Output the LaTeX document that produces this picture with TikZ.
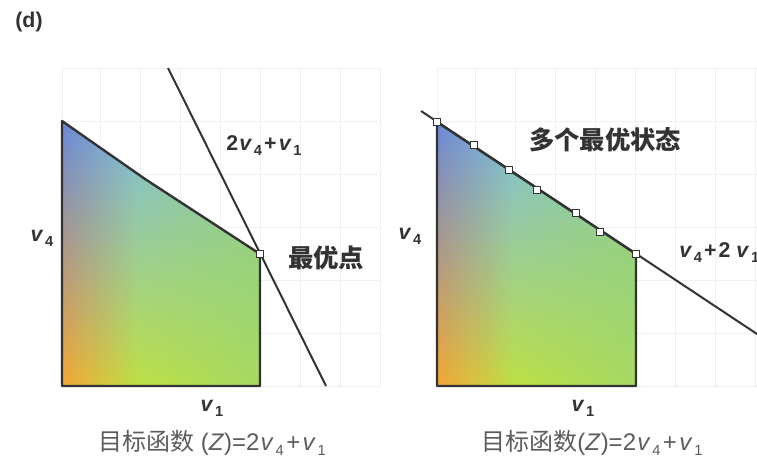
\documentclass[tikz,border=0pt]{standalone}
\usepackage{fontspec}
\setmainfont{Liberation Sans}
\newfontfamily\cjk{Noto Sans CJK SC}
\definecolor{ink}{HTML}{333333}
\definecolor{gridc}{HTML}{F0F0F0}
\definecolor{C00}{HTML}{6A88D8}
\definecolor{C10}{HTML}{7EBCE0}
\definecolor{C20}{HTML}{8ACC96}
\definecolor{C01}{HTML}{9CAED0}
\definecolor{C11}{HTML}{8ECC98}
\definecolor{C21}{HTML}{98D072}
\definecolor{C02}{HTML}{F4A634}
\definecolor{C12}{HTML}{BCE044}
\definecolor{C22}{HTML}{A6D862}
\tikzset{
  gridline/.style={draw=gridc, line width=0.6pt},
  outline/.style={draw=ink, line width=1.8pt, line join=round},
  objline/.style={draw=ink, line width=1.5pt},
  mk/.style={draw=ink, fill=white, line width=0.9pt, minimum size=5.5pt, inner sep=0pt, rectangle},
  lbl/.style={text=ink, font=\fontsize{16}{18}\selectfont\bfseries, inner sep=0pt},
  clbl/.style={text=ink, font=\fontsize{19}{21}\selectfont\cjk\bfseries, inner sep=0pt},
  axl/.style={text=ink, font=\fontsize{16}{18}\selectfont\bfseries, inner sep=0pt},
  captxt/.style={text=ink!80, font=\fontsize{18}{20}\selectfont, inner sep=0pt},
}
\newcommand{\vv}[1]{\textit{v}\kern0.08em\raisebox{-0.45ex}{\fontsize{11}{12}\selectfont #1}}
\newcommand{\pl}{\kern0.1em+\kern0.1em}
% strip-shaded fill of a panel: #1 = left x, #2 = width
\newcommand{\panelfill}[2]{%
  \foreach \k in {0,...,59} {
    \pgfmathsetmacro{\u}{(\k+0.5)/60}
    \pgfmathsetmacro{\xa}{#1+\k*#2/60}
    \pgfmathsetmacro{\xb}{#1+(\k+1)*#2/60+0.7}
    \ifdim\u pt<0.39pt
      \pgfmathsetmacro{\p}{\u/0.39*100}
      \colorlet{ct}{C10!\p!C00}\colorlet{cm}{C11!\p!C01}\colorlet{cb}{C12!\p!C02}
    \else
      \pgfmathsetmacro{\p}{(\u-0.39)/0.61*100}
      \colorlet{ct}{C20!\p!C10}\colorlet{cm}{C21!\p!C11}\colorlet{cb}{C22!\p!C12}
    \fi
    \fill[top color=ct, middle color=cm, bottom color=cb] (\xa,121) rectangle (\xb,386);
  }%
}
\begin{document}
\begin{tikzpicture}[x=0.75pt, y=-0.75pt]
\clip (0,0) rectangle (757,460);
\fill[white] (0,0) rectangle (757,460);
\node[text=ink, font=\fontsize{16}{18}\selectfont\bfseries, inner sep=0pt] (d) at (29,22) {(d)};
% ---------- left panel grid ----------
\foreach \x in {62,100,140,180,220,260,300,340,380}
  \draw[gridline] (\x,68) -- (\x,386);
\foreach \y in {68,121,174,227,280,333,386}
  \draw[gridline] (62,\y) -- (380,\y);
\coordinate (L1) at (62,121);
\coordinate (L2) at (145,179);
\coordinate (L3) at (260,254);
\coordinate (L4) at (260,386);
\coordinate (L5) at (62,386);
\begin{scope}
  \clip (L1) -- (L2) -- (L3) -- (L4) -- (L5) -- cycle;
  \panelfill{62}{198}
\end{scope}
\draw[outline] (L1) -- (L2) -- (L3) -- (L4) -- (L5) -- cycle;
\coordinate (A1) at (168,68);
\coordinate (A2) at (326,386);
\draw[objline] (A1) -- (A2);
\node[mk] (opt) at (L3) {};
\node[lbl] (t1) at (264,146) {2\kern0.05em\vv{4}\pl\vv{1}};
\node[clbl] (t2) at (326,258) {最优点};
\node[axl] (ya) at (42,238) {\vv{4}};
\node[axl] (xa) at (212,408) {\vv{1}};
\node[captxt] (c1) at (212,443) {{\cjk 目标函数} (\textit{Z})=2\kern0.05em\vv{4}\pl\vv{1}};
% ---------- right panel grid ----------
\foreach \x in {437,475,515,555,595,635,675,715,755}
  \draw[gridline] (\x,68) -- (\x,386);
\foreach \y in {68,121,174,227,280,333,386}
  \draw[gridline] (437,\y) -- (757,\y);
\coordinate (R1) at (437,122);
\coordinate (R2) at (474,145);
\coordinate (R3) at (509,170);
\coordinate (R4) at (537,190);
\coordinate (R5) at (576,213);
\coordinate (R6) at (600,232);
\coordinate (R7) at (636,254);
\coordinate (R8) at (636,386);
\coordinate (R9) at (437,386);
\begin{scope}
  \clip (R1) -- (R7) -- (R8) -- (R9) -- cycle;
  \panelfill{437}{199}
\end{scope}
\draw[outline] (R1) -- (R7) -- (R8) -- (R9) -- cycle;
\coordinate (B1) at (421,111);
\coordinate (B2) at (760,336);
\draw[objline] (B1) -- (B2);
\foreach \p in {R1,R2,R3,R4,R5,R6,R7}
  \node[mk] (m\p) at (\p) {};
\node[clbl] (t3) at (605,140) {多个最优状态};
\node[lbl, anchor=west] (t4) at (679,253) {\vv{4}\pl 2 \vv{1}};
\node[axl] (ya2) at (410,236) {\vv{4}};
\node[axl] (xa2) at (583,408) {\vv{1}};
\node[captxt] (c2) at (592,443) {{\cjk 目标函数}(\textit{Z})=2\kern0.05em\vv{4}\pl\vv{1}};
\end{tikzpicture}
\end{document}
